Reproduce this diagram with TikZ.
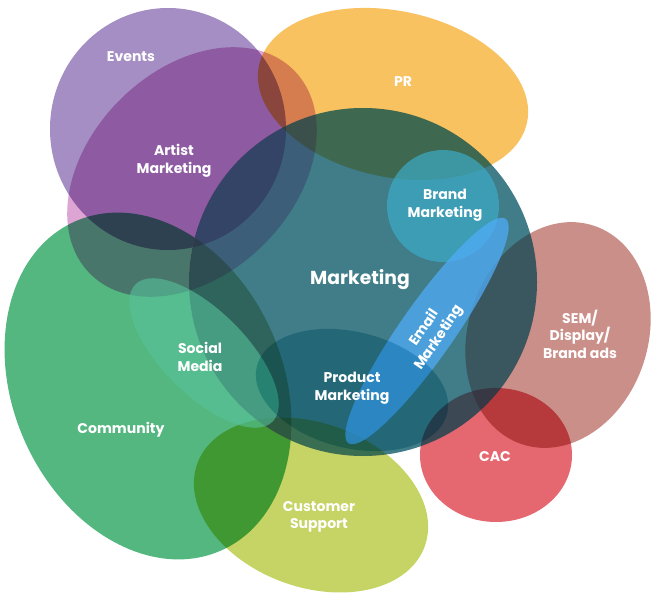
\documentclass[tikz,border=0pt]{standalone}
\usepackage{fontspec}
\setmainfont{Poppins}
\definecolor{evpurple}{RGB}{165, 142, 195}
\definecolor{artpurple}{RGB}{220, 165, 212}
\definecolor{prorange}{RGB}{248, 194, 96}
\definecolor{comgreen}{RGB}{84, 183, 128}
\definecolor{mktwarm}{RGB}{255, 70, 90}
\definecolor{mktteal}{RGB}{64, 223, 223}
\definecolor{socgreen}{RGB}{86, 194, 155}
\definecolor{brandblue}{RGB}{61, 171, 199}
\definecolor{mailblue}{RGB}{80, 172, 248}
\definecolor{supyellow}{RGB}{197, 212, 100}
\definecolor{prodcyan}{RGB}{147, 214, 225}
\definecolor{semrose}{RGB}{203, 143, 138}
\definecolor{cacred}{RGB}{229, 103, 112}

\begin{document}
\begin{tikzpicture}[x=0.03cm, y=-0.03cm,
    blob/.style={blend mode=multiply},
    glass/.style={fill opacity=#1},
    lbl/.style={text=white, align=center, inner sep=0pt,
      font=\bfseries\fontsize{12}{15}\selectfont}]
  \useasboundingbox (0,0) rectangle (656,600);

  % blobs under the big Marketing disc
  \fill[blob, evpurple, shift={(168,129)}] (0,0) ellipse [x radius=118, y radius=121];
  \fill[blob, artpurple, shift={(192,172)}, rotate=45] (0,0) ellipse [x radius=144, y radius=102];
  \fill[blob, comgreen, shift={(148,386)}, rotate=24] (0,0) ellipse [x radius=135, y radius=180];
  \fill[blob, prorange, shift={(393,94)}, rotate=-12] (0,0) ellipse [x radius=137, y radius=83];
  \fill[blob, supyellow, shift={(311,505)}, rotate=-20] (0,0) ellipse [x radius=121, y radius=82];
  \fill[blob, semrose, shift={(558,335)}, rotate=-18] (0,0) ellipse [x radius=90, y radius=115];
  \fill[blob, cacred, shift={(496,455)}] (0,0) ellipse [x radius=76, y radius=67];
  % Marketing: half see-through, then multiplied
  \fill[glass=0.6, mktwarm] (363,282) circle [radius=174];
  \fill[blob, mktteal] (363,282) circle [radius=174];
  % lighter blobs on top
  \fill[glass=0.6, socgreen, shift={(204,353)}, rotate=-45] (0,0) ellipse [x radius=97, y radius=42];
  \fill[glass=0.7, brandblue] (443,206) circle [radius=56];
  \fill[glass=0.75, mailblue, shift={(427,331)}, rotate=55] (0,0) ellipse [x radius=137, y radius=27];
  \fill[blob, prodcyan, shift={(352,390)}, rotate=-14] (0,0) ellipse [x radius=98, y radius=58];

  % labels
  \node[lbl] (events) at (131,57) {Events};
  \node[lbl] (pr) at (403,82) {PR};
  \node[lbl] (artist) at (174,161) {Artist\\Marketing};
  \node[lbl] (brand) at (445,205) {Brand\\Marketing};
  \node[lbl, font=\bfseries\fontsize{16}{19}\selectfont] (marketing) at (360,280) {Marketing};
  \node[lbl, rotate=56] (email) at (432,333) {Email\\Marketing};
  \node[lbl] (sem) at (580,334) {SEM/\\Display/\\Brand ads};
  \node[lbl] (social) at (200,357) {Social\\Media};
  \node[lbl] (community) at (121,430) {Community};
  \node[lbl] (product) at (352,388) {Product\\Marketing};
  \node[lbl] (cac) at (495,457) {CAC};
  \node[lbl] (support) at (319,517) {Customer\\Support};
\end{tikzpicture}
\end{document}
